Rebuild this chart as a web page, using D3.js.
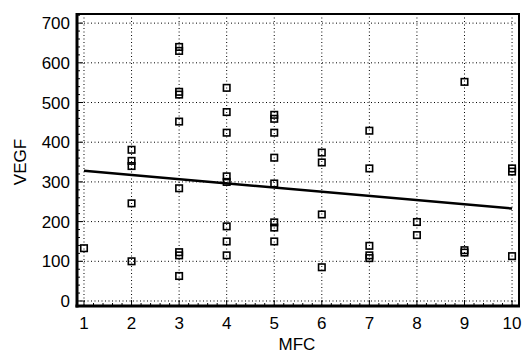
<!DOCTYPE html>
<html><head><meta charset="utf-8">
<script src="https://cdn.jsdelivr.net/npm/d3@7"></script>
<style>body{margin:0;background:#fff}svg{display:block}</style>
</head><body><svg id="c" width="524" height="356"></svg>
<script>
const mfc  = [1, 2,2,2,2,2, 3,3,3,3,3,3,3,3,3, 4,4,4,4,4,4,4,4, 5,5,5,5,5,5,5,5, 6,6,6,6, 7,7,7,7,7, 8,8, 9,9,9, 10,10,10];
const vegf = [133, 381,353,340,246,100, 640,630,527,520,452,284,123,115,63, 537,476,424,314,300,188,150,115, 469,459,424,361,296,198,185,150, 374,349,218,85, 429,334,139,115,108, 199,166, 552,128,122, 334,326,113];
const fitX = [1, 10];
const fitY = [328, 233];
const xTicks = [1,2,3,4,5,6,7,8,9,10];
const yTicks = [0,100,200,300,400,500,600,700];

const svg = d3.select("#c");
const L = 77, R = 519, T = 14, B = 306;
const x = d3.scaleLinear().domain([0.853, 10.146]).range([L, R]);
const y = d3.scaleLinear().domain([-12.6, 723]).range([B, T]);
const font = "Liberation Sans, Arial, sans-serif";

// grid
const g = svg.append("g");
g.selectAll(".gx").data(xTicks).join("line")
  .attr("x1", d => x(d)).attr("x2", d => x(d)).attr("y1", T).attr("y2", B)
  .attr("stroke", "#000").attr("stroke-width", 1).attr("stroke-dasharray", "1,2.5");
g.selectAll(".gy").data(yTicks).join("line")
  .attr("y1", d => y(d)).attr("y2", d => y(d)).attr("x1", L).attr("x2", R)
  .attr("stroke", "#000").attr("stroke-width", 1).attr("stroke-dasharray", "1,2.5");

// minor ticks inward
const yMinor = d3.range(0, 721, 20);
svg.append("g").selectAll("line").data(yMinor).join("line")
  .attr("x1", L).attr("x2", d => L + (d % 100 === 0 ? 6 : 3))
  .attr("y1", d => y(d)).attr("y2", d => y(d)).attr("stroke", "#000").attr("stroke-width", 1);
const xMinor = d3.range(1, 10.01, 0.2);
svg.append("g").selectAll("line").data(xMinor).join("line")
  .attr("y1", B).attr("y2", d => B - (Math.abs(d - Math.round(d)) < 0.01 ? 6 : 3))
  .attr("x1", d => x(d)).attr("x2", d => x(d)).attr("stroke", "#000").attr("stroke-width", 1);

// frame
svg.append("rect").attr("x", L).attr("y", T).attr("width", R - L).attr("height", B - T)
  .attr("fill", "none").attr("stroke", "#000").attr("stroke-width", 2);
svg.append("line").attr("x1", L).attr("x2", L).attr("y1", T - 1).attr("y2", B + 1.5)
  .attr("stroke", "#000").attr("stroke-width", 3);
svg.append("line").attr("x1", L - 1.5).attr("x2", R + 1).attr("y1", B).attr("y2", B)
  .attr("stroke", "#000").attr("stroke-width", 3);

// fit line
svg.append("line").attr("x1", x(fitX[0])).attr("y1", y(fitY[0]))
  .attr("x2", x(fitX[1])).attr("y2", y(fitY[1]))
  .attr("stroke", "#000").attr("stroke-width", 2.5);

// points
svg.append("g").selectAll("rect").data(mfc.map((m, i) => [m, vegf[i]])).join("rect")
  .attr("x", d => x(d[0]) - 3.25).attr("y", d => y(d[1]) - 3.25)
  .attr("width", 6.5).attr("height", 6.5)
  .attr("fill", "none").attr("stroke", "#000").attr("stroke-width", 1.6);

// tick labels
svg.append("g").selectAll("text").data(yTicks).join("text")
  .attr("x", 70).attr("y", d => y(d) + 6).attr("text-anchor", "end")
  .attr("font-family", font).attr("font-size", 17).text(d => d);
svg.append("g").selectAll("text").data(xTicks).join("text")
  .attr("x", d => x(d)).attr("y", 329).attr("text-anchor", "middle")
  .attr("font-family", font).attr("font-size", 17).text(d => d);

svg.append("text").attr("x", 297).attr("y", 350).attr("text-anchor", "middle")
  .attr("font-family", font).attr("font-size", 17).text("MFC");
svg.append("text").attr("transform", "translate(26,162) rotate(-90)")
  .attr("text-anchor", "middle").attr("font-family", font).attr("font-size", 17).text("VEGF");
</script></body></html>
